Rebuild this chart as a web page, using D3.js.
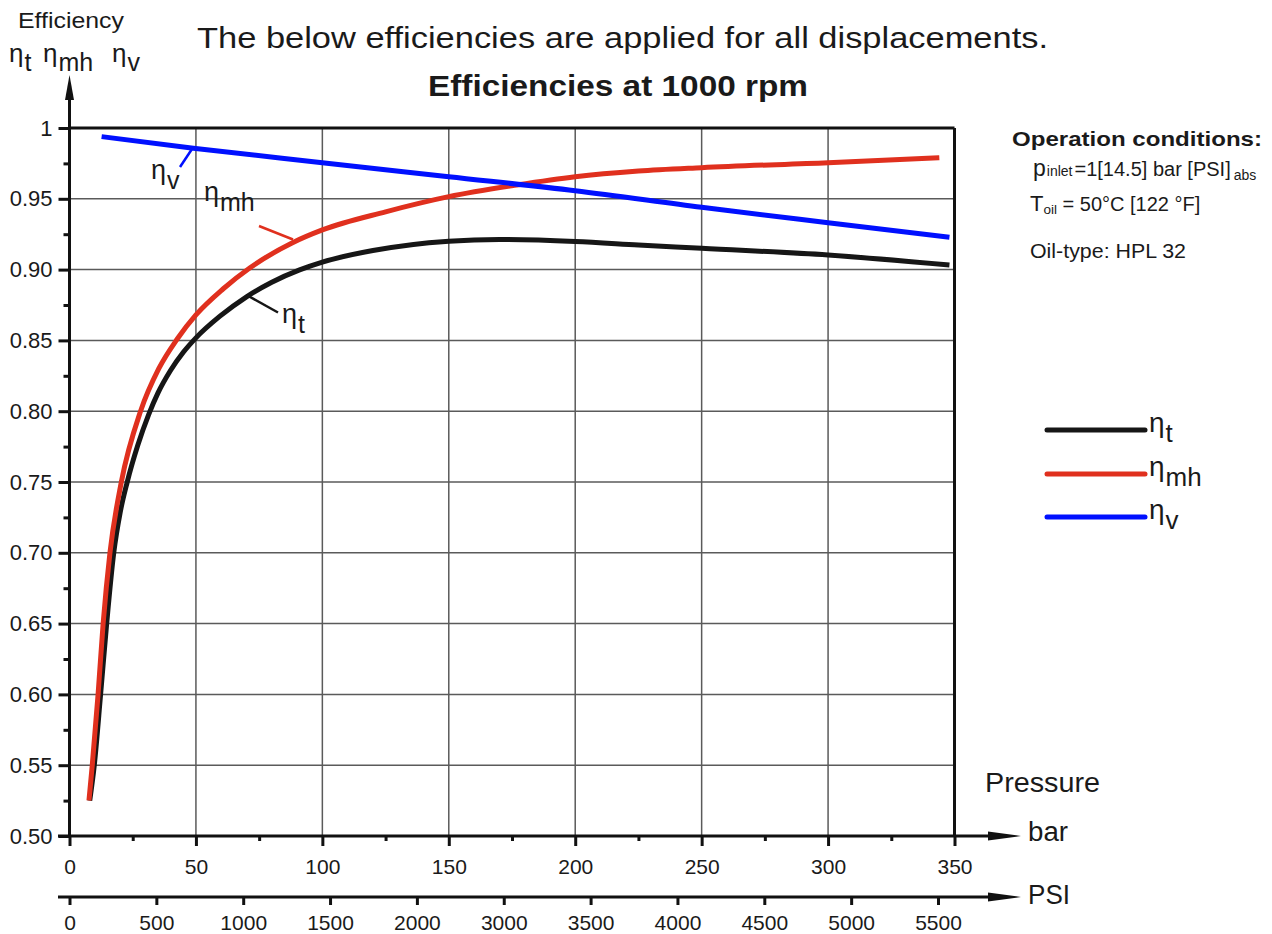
<!DOCTYPE html>
<html>
<head>
<meta charset="utf-8">
<script src="https://cdn.jsdelivr.net/npm/d3@7/dist/d3.min.js"></script>
<style>
  html, body { margin: 0; padding: 0; background: #fff; }
  svg { display: block; }
  text { font-family: "Liberation Sans", Arial, sans-serif; fill: #1a1a1a; }
</style>
</head>
<body>
<svg id="chart" width="1272" height="934"></svg>
<script>
// ---------------- DATA ----------------
const barTicks = [0, 50, 100, 150, 200, 250, 300, 350];
const barMinorTicks = [25, 75, 125, 175, 225, 275, 325];
const psiLabels = ["0", "500", "1000", "1500", "2000", "3000", "3500", "4000", "4500", "5000", "5500"];
const yTicks = [0.50, 0.55, 0.60, 0.65, 0.70, 0.75, 0.80, 0.85, 0.90, 0.95, 1.00];
const yTickLabels = ["0.50", "0.55", "0.60", "0.65", "0.70", "0.75", "0.80", "0.85", "0.90", "0.95", "1"];
const yMinorTicks = [0.525, 0.575, 0.625, 0.675, 0.725, 0.775, 0.825, 0.875, 0.925, 0.975];

// eta_t (total efficiency)
const pressureT = [8.0, 9.8, 12.3, 14.7, 17.5, 20, 22.8, 27, 31.3, 35, 40, 45, 50, 59.5, 70, 80, 91, 100, 120, 150, 170, 200, 225, 250, 300, 348];
const etaT = [0.525, 0.55, 0.60, 0.65, 0.70, 0.7281, 0.7498, 0.7759, 0.7976, 0.8129, 0.8289, 0.8416, 0.8518, 0.8671, 0.8808, 0.8911, 0.8998, 0.9053, 0.9135, 0.9201, 0.9213, 0.9199, 0.9174, 0.915, 0.9103, 0.9032];
// eta_mh (mechanical-hydraulic efficiency)
const pressureMh = [7.7, 9.0, 11.3, 13.3, 16.0, 20.5, 28.1, 35.3, 42.6, 50, 60.7, 71.4, 88, 100, 125, 150, 176.8, 200, 225, 250, 300, 344];
const etaMh = [0.525, 0.55, 0.60, 0.65, 0.70, 0.75, 0.80, 0.830, 0.851, 0.868, 0.8863, 0.9013, 0.9188, 0.928, 0.9408, 0.9515, 0.9597, 0.9656, 0.9696, 0.972, 0.9755, 0.979];
// eta_v (volumetric efficiency)
const pressureV = [12.7, 49, 100, 150, 200, 250, 300, 348];
const etaV = [0.9939, 0.9857, 0.9755, 0.9656, 0.9557, 0.944, 0.9331, 0.9228];

const seriesNames = ["t", "mh", "v"];
const seriesColors = ["#161616", "#e0301e", "#0010ff"];

// ---------------- SETUP ----------------
const svg = d3.select("#chart");
const x = d3.scaleLinear().domain([0, 350]).range([69.5, 954.5]);
const y = d3.scaleLinear().domain([0.5, 1]).range([836, 128]);
const xPsi = d3.scalePoint().domain(psiLabels).range([69.5, 938]);

function txt(g, str, px, py, opts = {}) {
  const t = g.append("text")
    .attr("x", px).attr("y", py)
    .attr("font-size", opts.size || 20)
    .attr("font-weight", opts.weight || "normal")
    .attr("text-anchor", opts.anchor || "start")
    .text(str);
  if (opts.len) t.attr("textLength", opts.len).attr("lengthAdjust", "spacingAndGlyphs");
  return t;
}
// eta with subscript
function eta(g, sub, px, py, size, subSize, dy) {
  const t = g.append("text").attr("x", px).attr("y", py).attr("font-size", size);
  t.append("tspan").text("η");
  t.append("tspan").attr("dy", dy).attr("dx", 1).attr("font-size", subSize).text(sub);
  return t;
}

// ---------------- GRID ----------------
const grid = svg.append("g");
grid.selectAll("line.v").data(barTicks.filter(d => d > 0 && d < 350)).join("line")
  .attr("x1", d => x(d)).attr("x2", d => x(d)).attr("y1", y(1)).attr("y2", y(0.5))
  .attr("stroke", "#5a5a5a").attr("stroke-width", 1.5);
grid.selectAll("line.h").data(yTicks.filter(d => d > 0.5 && d < 1)).join("line")
  .attr("x1", x(0)).attr("x2", x(350)).attr("y1", d => y(d)).attr("y2", d => y(d))
  .attr("stroke", "#5a5a5a").attr("stroke-width", 1.5);

// frame top/right
svg.append("line").attr("x1", x(0)).attr("x2", x(350)).attr("y1", y(1)).attr("y2", y(1))
  .attr("stroke", "#111").attr("stroke-width", 3);
svg.append("line").attr("x1", x(350)).attr("x2", x(350)).attr("y1", y(1)).attr("y2", y(0.5))
  .attr("stroke", "#111").attr("stroke-width", 3);

// ---------------- CURVES ----------------
const lineGen = d3.line().curve(d3.curveMonotoneX).x(d => x(d[0])).y(d => y(d[1]));
const curves = [
  d3.zip(pressureT, etaT),
  d3.zip(pressureMh, etaMh),
  d3.zip(pressureV, etaV)
];
svg.append("g").selectAll("path").data(curves).join("path")
  .attr("d", lineGen)
  .attr("fill", "none")
  .attr("stroke", (d, i) => seriesColors[i])
  .attr("stroke-width", 5);

// ---------------- AXES ----------------
const axG = svg.append("g");
// Y axis
const yAxis = d3.axisLeft(y).tickValues(yTicks).tickSize(11).tickFormat((d, i) => yTickLabels[i]).tickPadding(6);
const yg = axG.append("g").attr("transform", `translate(${x(0)},0)`).call(yAxis);
yg.select(".domain").remove();
yg.selectAll(".tick line").attr("stroke", "#111").attr("stroke-width", 3);
yg.selectAll(".tick text").attr("font-size", 22).attr("font-family", "Liberation Sans, Arial").attr("fill", "#1a1a1a");
const yMinor = d3.axisLeft(y).tickValues(yMinorTicks).tickSize(6).tickFormat("");
const ymg = axG.append("g").attr("transform", `translate(${x(0)},0)`).call(yMinor);
ymg.select(".domain").remove();
ymg.selectAll(".tick line").attr("stroke", "#111").attr("stroke-width", 3);
axG.append("line").attr("x1", x(0)).attr("x2", x(0)).attr("y1", y(0.5) + 1.5).attr("y2", 98)
  .attr("stroke", "#111").attr("stroke-width", 3);
axG.append("path").attr("d", `M${x(0) - 4.5},100 L${x(0)},75 L${x(0) + 4.5},100 Z`).attr("fill", "#111");

// Bar axis
const xAxis = d3.axisBottom(x).tickValues(barTicks).tickSize(10).tickPadding(13);
const xg = axG.append("g").attr("transform", `translate(0,${y(0.5)})`).call(xAxis);
xg.select(".domain").remove();
xg.selectAll(".tick line").attr("stroke", "#111").attr("stroke-width", 3);
xg.selectAll(".tick text").attr("font-size", 21).attr("font-family", "Liberation Sans, Arial").attr("fill", "#1a1a1a");
const xMinor = d3.axisBottom(x).tickValues(barMinorTicks).tickSize(5).tickFormat("");
const xmg = axG.append("g").attr("transform", `translate(0,${y(0.5)})`).call(xMinor);
xmg.select(".domain").remove();
xmg.selectAll(".tick line").attr("stroke", "#111").attr("stroke-width", 3);
axG.append("line").attr("x1", 58).attr("x2", 992).attr("y1", y(0.5)).attr("y2", y(0.5))
  .attr("stroke", "#111").attr("stroke-width", 3);
axG.append("path").attr("d", `M988,${y(0.5) - 4.5} L1021,${y(0.5)} L988,${y(0.5) + 4.5} Z`).attr("fill", "#111");

// PSI axis
const psiY = 897;
const pAxis = d3.axisBottom(xPsi).tickSize(8).tickPadding(10);
const pg = axG.append("g").attr("transform", `translate(0,${psiY})`).call(pAxis);
pg.select(".domain").remove();
pg.selectAll(".tick line").attr("stroke", "#111").attr("stroke-width", 3);
pg.selectAll(".tick text").attr("font-size", 21).attr("font-family", "Liberation Sans, Arial").attr("fill", "#1a1a1a");
axG.append("line").attr("x1", 58).attr("x2", 992).attr("y1", psiY).attr("y2", psiY)
  .attr("stroke", "#111").attr("stroke-width", 3);
axG.append("path").attr("d", `M988,${psiY - 4.5} L1021,${psiY} L988,${psiY + 4.5} Z`).attr("fill", "#111");

// ---------------- TEXTS ----------------
const tg = svg.append("g");
txt(tg, "Efficiency", 18, 28, { size: 22, len: 106 });
eta(tg, "t", 9, 62, 26, 25, 9);
eta(tg, "mh", 43, 62, 26, 25, 9);
eta(tg, "v", 112, 62, 26, 25, 9);

txt(tg, "The below efficiencies are applied for all displacements.", 197, 48, { size: 29, len: 851 });
txt(tg, "Efficiencies at 1000 rpm", 428, 96, { size: 29, weight: "bold", len: 380 });

txt(tg, "Pressure", 985, 792, { size: 27, len: 115 });
txt(tg, "bar", 1028, 841, { size: 27, len: 40 });
txt(tg, "PSI", 1028, 904, { size: 27, len: 42 });

// Operation conditions
txt(tg, "Operation conditions:", 1012, 146, { size: 20.5, weight: "bold", len: 250 });
const p1 = tg.append("text").attr("x", 1033).attr("y", 176).attr("font-size", 20);
p1.append("tspan").attr("font-size", 23).text("p");
p1.append("tspan").attr("font-size", 14).attr("dx", 1).text("inlet");
p1.append("tspan").attr("dx", 2).text("=1[14.5] bar [PSI]");
p1.append("tspan").attr("font-size", 14).attr("dy", 4).attr("dx", 3).text("abs");
const p2 = tg.append("text").attr("x", 1030).attr("y", 211).attr("font-size", 20);
p2.append("tspan").attr("font-size", 22).text("T");
p2.append("tspan").attr("font-size", 13.5).attr("dy", 3).text("oil");
p2.append("tspan").attr("dy", -3).text(" = 50°C [122 °F]");
txt(tg, "Oil-type: HPL 32", 1030, 258, { size: 20, len: 156 });

// Curve annotations
const annG = svg.append("g");
const annLines = [
  { i: 2, x1: 180, y1: 167, x2: 192, y2: 149 },
  { i: 1, x1: 259, y1: 226, x2: 293, y2: 239.5 },
  { i: 0, x1: 246.5, y1: 295, x2: 278, y2: 312.5 }
];
annG.selectAll("line").data(annLines).join("line")
  .attr("x1", d => d.x1).attr("y1", d => d.y1).attr("x2", d => d.x2).attr("y2", d => d.y2)
  .attr("stroke", d => seriesColors[d.i]).attr("stroke-width", 2.5);
eta(annG, "v", 151, 179, 27, 25, 10);
eta(annG, "mh", 204, 201, 27, 25, 10);
eta(annG, "t", 282, 323, 27, 25, 10);

// ---------------- LEGEND ----------------
const legY = [430, 474, 517];
const lg = svg.append("g");
lg.selectAll("line").data(seriesNames).join("line")
  .attr("x1", 1047).attr("x2", 1145)
  .attr("y1", (d, i) => legY[i]).attr("y2", (d, i) => legY[i])
  .attr("stroke", (d, i) => seriesColors[i]).attr("stroke-width", 5).attr("stroke-linecap", "round");
seriesNames.forEach((s, i) => eta(lg, s, 1149, legY[i] + 2, 28, 26, 10));
</script>
</body>
</html>
